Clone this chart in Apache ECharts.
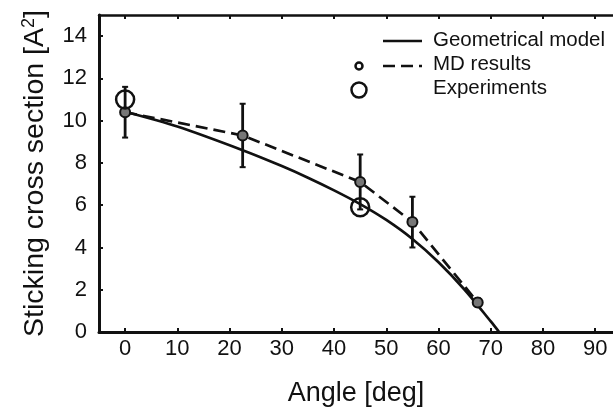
<!DOCTYPE html>
<html>
<head>
<meta charset="utf-8">
<script src="https://cdn.jsdelivr.net/npm/echarts@6/dist/echarts.min.js"></script>
<style>
  html, body { margin: 0; padding: 0; background: #fff; }
  #chart { width: 613px; height: 407px; }
</style>
</head>
<body>
<div id="chart"></div>
<script>
// geometrical model curve
var modelAngle = [0, 10, 22.5, 30, 35, 40, 45, 50, 55, 60, 65, 70, 71.6];
var modelValue = [10.42, 9.72, 8.6, 7.85, 7.3, 6.7, 6.05, 5.3, 4.4, 3.3, 2.0, 0.5, 0];

// MD results with error bars
var mdAngle = [0, 22.5, 45, 55, 67.5];
var mdValue = [10.4, 9.3, 7.1, 5.2, 1.4];
var mdErr = [1.2, 1.5, 1.3, 1.2, 0.2];

// experiments
var expAngle = [0, 45];
var expValue = [11.0, 5.9];

var xTicks = [0, 10, 20, 30, 40, 50, 60, 70, 80, 90];

var FONT = 'Liberation Sans';
var INK = '#111';

function zip(a, b, c) {
	return a.map(function (v, i) {
		return c ? [v, b[i], c[i]] : [v, b[i]];
	});
}

function errorBar(params, api) {
	var x = api.value(0), y = api.value(1), e = api.value(2);
	var top = api.coord([x, y + e]);
	var bot = api.coord([x, y - e]);
	var hw = 3;
	return {
		type: 'group',
		children: [
			{ type: 'line', shape: { x1: top[0], y1: top[1], x2: bot[0], y2: bot[1] }, style: { stroke: INK, lineWidth: 2.8 } },
			{ type: 'line', shape: { x1: top[0] - hw, y1: top[1], x2: top[0] + hw, y2: top[1] }, style: { stroke: INK, lineWidth: 2 } },
			{ type: 'line', shape: { x1: bot[0] - hw, y1: bot[1], x2: bot[0] + hw, y2: bot[1] }, style: { stroke: INK, lineWidth: 2 } }
		]
	};
}

var chart = echarts.init(document.getElementById('chart'));

var option = {
	backgroundColor: '#fff',
	animation: false,
	grid: { left: 99, right: 0, top: 15, bottom: 75, containLabel: false, outerBoundsMode: 'none' },
	xAxis: [
		{
			type: 'value',
			min: -5,
			max: 93.4,
			name: 'Angle [deg]',
			nameLocation: 'middle',
			nameGap: 48,
			nameTextStyle: { fontFamily: FONT, fontSize: 27, color: INK },
			splitLine: { show: false },
			axisLine: { onZero: false, lineStyle: { color: INK, width: 3 } },
			axisTick: { inside: true, length: 4, customValues: xTicks, lineStyle: { color: INK, width: 2 } },
			axisLabel: { fontFamily: FONT, fontSize: 22, color: INK, margin: 6, customValues: xTicks }
		},
		{
			type: 'value',
			position: 'top',
			min: -5,
			max: 93.4,
			splitLine: { show: false },
			axisLine: { onZero: false, lineStyle: { color: INK, width: 2.5 } },
			axisTick: { inside: true, length: 4, customValues: xTicks, lineStyle: { color: INK, width: 2 } },
			axisLabel: { show: false }
		}
	],
	yAxis: {
		type: 'value',
		min: 0,
		max: 15,
		interval: 2,
		name: '{t|Sticking cross section [A}{s|2}{t|]}',
		nameLocation: 'middle',
		nameGap: 48,
		nameTextStyle: {
			rich: {
				t: { fontFamily: FONT, fontSize: 28.5, color: INK, lineHeight: 31 },
				s: { fontFamily: FONT, fontSize: 18, color: INK, verticalAlign: 'top', lineHeight: 31 }
			}
		},
		splitLine: { show: false },
		axisLine: { show: true, onZero: false, lineStyle: { color: INK, width: 3 } },
		axisTick: { show: true, inside: true, length: 4, lineStyle: { color: INK, width: 2 } },
		axisLabel: { fontFamily: FONT, fontSize: 22, color: INK, margin: 12, showMaxLabel: false }
	},
	graphic: [
		{ type: 'line', shape: { x1: 383, y1: 41, x2: 422, y2: 41 }, style: { stroke: INK, lineWidth: 2.5 } },
		{ type: 'text', left: 433, top: 30, style: { text: 'Geometrical model', font: '20.5px "Liberation Sans"', fill: INK } },
		{ type: 'circle', shape: { cx: 359, cy: 66, r: 3.5 }, style: { stroke: INK, lineWidth: 2.5, fill: '#fff' } },
		{ type: 'line', shape: { x1: 383, y1: 66, x2: 422, y2: 66 }, style: { stroke: INK, lineWidth: 2.5, lineDash: [12, 6] } },
		{ type: 'text', left: 433, top: 54, style: { text: 'MD results', font: '20.5px "Liberation Sans"', fill: INK } },
		{ type: 'circle', shape: { cx: 359, cy: 90, r: 7.5 }, style: { stroke: INK, lineWidth: 2.5, fill: 'none' } },
		{ type: 'text', left: 433, top: 78, style: { text: 'Experiments', font: '20.5px "Liberation Sans"', fill: INK } }
	],
	series: [
		{
			name: 'Geometrical model',
			type: 'line',
			xAxisIndex: 0,
			smooth: 0.3,
			showSymbol: false,
			data: zip(modelAngle, modelValue),
			lineStyle: { color: INK, width: 2.7 },
			z: 2
		},
		{
			name: 'MD results',
			type: 'line',
			xAxisIndex: 0,
			data: zip(mdAngle, mdValue),
			lineStyle: { color: INK, width: 2.7, type: [12, 6] },
			symbol: 'none',
			z: 2
		},
		{
			name: 'MD error',
			type: 'custom',
			xAxisIndex: 0,
			renderItem: errorBar,
			data: zip(mdAngle, mdValue, mdErr),
			z: 3
		},
		{
			name: 'MD points',
			type: 'scatter',
			xAxisIndex: 0,
			data: zip(mdAngle, mdValue),
			symbolSize: 10,
			itemStyle: { color: '#777', borderColor: INK, borderWidth: 2, opacity: 1 },
			z: 4
		},
		{
			name: 'Experiments',
			type: 'scatter',
			xAxisIndex: 0,
			data: zip(expAngle, expValue),
			symbolSize: 18,
			itemStyle: { color: 'rgba(0,0,0,0)', borderColor: INK, borderWidth: 2.5, opacity: 1 },
			z: 5
		}
	]
};

chart.setOption(option);
</script>
</body>
</html>
